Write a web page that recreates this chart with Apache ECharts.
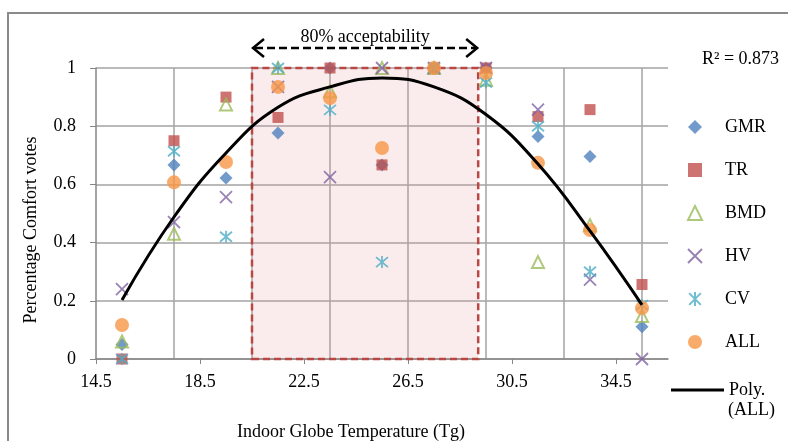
<!DOCTYPE html>
<html lang="en">
<head>
    <meta charset="UTF-8">
    <title>Comfort votes</title>
    <script src="https://cdn.jsdelivr.net/npm/echarts@6/dist/echarts.min.js"></script>
    <style>
        html, body { margin: 0; padding: 0; background: #fff; }
        #main { width: 788px; height: 441px; }
    </style>
</head>
<body>
<div id="main"></div>

<script type="text/javascript">
    // indoor globe temperature bins (Tg)
    var temps = [15.5, 17.5, 19.5, 21.5, 23.5, 25.5, 27.5, 29.5, 31.5, 33.5, 35.5];

    // percentage comfort votes per group
    var gmr = [0.05, 0.667, 0.622, 0.777, 1.0, 0.667, 1.0, 1.0, 0.765, 0.696, 0.111];
    var tr  = [0.0, 0.75, 0.9, 0.83, 1.0, 0.667, 1.0, 1.0, 0.833, 0.857, 0.256];
    var bmd = [0.06, 0.43, 0.875, 1.0, 0.92, 1.0, 1.0, 0.96, 0.333, 0.46, 0.148];
    var hv  = [0.24, 0.47, 0.556, 0.935, 0.625, 1.0, 1.0, 1.0, 0.857, 0.273, 0.0];
    var cv  = [0.0, 0.714, 0.42, 1.0, 0.856, 0.333, 1.0, 0.95, 0.8, 0.3, 0.185];
    var all = [0.117, 0.607, 0.677, 0.935, 0.897, 0.725, 1.0, 0.983, 0.674, 0.443, 0.175];

    // polynomial trend of ALL
    var polyAll = [0.203, 0.488, 0.708, 0.865, 0.935, 0.966, 0.935, 0.84, 0.67, 0.44, 0.186];

    var xTicks = [14.5, 18.5, 22.5, 26.5, 30.5, 34.5];
    var xGrid = [17.5, 20.5, 23.5, 26.5, 29.5, 32.5, 35.5];
    var acceptRange = [20.5, 29.2];

    var font = 'Liberation Serif';
    var gridColor = '#a3a3a3';

    function pts(arr) {
        var out = [];
        for (var i = 0; i < temps.length; i++) {
            out.push([temps[i], arr[i]]);
        }
        return out;
    }

    var myChart = echarts.init(document.getElementById('main'));

    var option = {
        animation: false,
        backgroundColor: '#fff',
        title: {
            text: 'R² = 0.873',
            left: 697,
            top: 45,
            textStyle: {fontFamily: font, fontSize: 18, fontWeight: 'normal', color: '#000'}
        },
        legend: [{
            orient: 'vertical',
            left: 682,
            top: 113,
            itemWidth: 14,
            itemHeight: 14,
            itemGap: 25,
            data: ['GMR', 'TR', 'BMD', 'HV', 'CV', 'ALL'],
            textStyle: {fontFamily: font, fontSize: 18, color: '#000', padding: [0, 0, 0, 18]}
        }, {
            orient: 'vertical',
            left: 666,
            top: 376,
            itemWidth: 53,
            itemHeight: 3,
            data: [{name: 'Poly.', icon: 'rect'}],
            textStyle: {fontFamily: font, fontSize: 18, color: '#000'}
        }],
        grid: {left: 96, right: 120, top: 68, bottom: 82},
        xAxis: [{
            type: 'value',
            min: 14.5,
            max: 36.5,
            axisLine: {show: true, lineStyle: {color: '#868686', width: 1.5}},
            axisTick: {show: true, customValues: xTicks, length: 5, lineStyle: {color: '#868686'}},
            axisLabel: {
                customValues: xTicks,
                formatter: function (v) { return v.toFixed(1); },
                margin: 14,
                fontFamily: font,
                fontSize: 18,
                color: '#000'
            },
            splitLine: {show: false}
        }, {
            type: 'value',
            position: 'top',
            min: 14.5,
            max: 36.5,
            axisLine: {show: false},
            axisTick: {show: false, customValues: xGrid},
            axisLabel: {show: false},
            splitLine: {show: true, lineStyle: {color: gridColor, width: 1.5}}
        }],
        yAxis: {
            type: 'value',
            min: 0,
            max: 1,
            interval: 0.2,
            axisLine: {show: true, lineStyle: {color: '#868686', width: 1.5}},
            axisTick: {show: true, length: 6, lineStyle: {color: '#868686'}},
            axisLabel: {margin: 20, fontFamily: font, fontSize: 18, color: '#000'},
            splitLine: {show: true, lineStyle: {color: gridColor, width: 1.5}}
        },
        series: [{
            // acceptability band
            name: 'band',
            type: 'scatter',
            data: [],
            z: 1,
            markArea: {
                silent: true,
                itemStyle: {
                    color: 'rgba(226,150,150,0.18)',
                    borderColor: '#b94744',
                    borderWidth: 2.5,
                    borderType: [7, 4]
                },
                data: [[{coord: [acceptRange[0], 0]}, {coord: [acceptRange[1], 1]}]]
            }
        }, {
            name: 'GMR',
            type: 'scatter',
            symbol: 'diamond',
            symbolSize: 13,
            itemStyle: {color: '#4f81bd'},
            data: pts(gmr)
        }, {
            name: 'TR',
            type: 'scatter',
            symbol: 'rect',
            symbolSize: 11,
            itemStyle: {color: '#c0504d'},
            data: pts(tr)
        }, {
            name: 'BMD',
            type: 'scatter',
            symbol: 'triangle',
            symbolSize: 12,
            itemStyle: {color: 'rgba(255,255,255,0)', borderColor: '#9bbb59', borderWidth: 2},
            data: pts(bmd)
        }, {
            name: 'HV',
            type: 'scatter',
            symbol: 'path://M0,0L10,10M10,0L0,10',
            symbolSize: 12,
            itemStyle: {color: 'rgba(255,255,255,0)', borderColor: '#8064a2', borderWidth: 1.8},
            data: pts(hv)
        }, {
            name: 'CV',
            type: 'scatter',
            symbol: 'path://M0,0L10,10M10,0L0,10M5,-1L5,11',
            symbolSize: 12,
            itemStyle: {color: 'rgba(255,255,255,0)', borderColor: '#4bacc6', borderWidth: 1.8},
            data: pts(cv)
        }, {
            name: 'ALL',
            type: 'scatter',
            symbol: 'circle',
            symbolSize: 14,
            itemStyle: {color: '#f79646'},
            data: pts(all)
        }, {
            name: 'Poly.',
            type: 'line',
            smooth: 0.45,
            showSymbol: false,
            symbol: 'none',
            z: 10,
            lineStyle: {color: '#000', width: 3},
            itemStyle: {color: '#000'},
            data: pts(polyAll)
        }]
    };

    myChart.setOption(option);

    // annotations placed from the axes
    var pL = myChart.convertToPixel({xAxisIndex: 0, yAxisIndex: 0}, [acceptRange[0], 1]);
    var pR = myChart.convertToPixel({xAxisIndex: 0, yAxisIndex: 0}, [acceptRange[1], 1]);
    var ay = pL[1] - 20;
    var lx = pL[0], rx = pR[0];

    myChart.setOption({
        graphic: [
            // outer frame
            {type: 'polyline', shape: {points: [[8, 441], [8, 13], [788, 13]]},
                style: {stroke: '#8a8a8a', lineWidth: 2, fill: null}},
            // arrow
            {type: 'line', shape: {x1: lx + 3, y1: ay, x2: rx - 3, y2: ay},
                style: {stroke: '#000', lineWidth: 2.5, lineDash: [8, 4]}},
            {type: 'polyline', shape: {points: [[lx + 12, ay - 9], [lx + 1, ay], [lx + 12, ay + 9]]},
                style: {stroke: '#000', lineWidth: 2.5, fill: null}},
            {type: 'polyline', shape: {points: [[rx - 12, ay - 9], [rx - 1, ay], [rx - 12, ay + 9]]},
                style: {stroke: '#000', lineWidth: 2.5, fill: null}},
            {type: 'text', x: (lx + rx) / 2, y: ay - 11,
                style: {text: '80% acceptability', font: '18px "Liberation Serif"', fill: '#000',
                    align: 'center', verticalAlign: 'middle'}},
            // axis titles
            {type: 'text', x: 351, y: 432,
                style: {text: 'Indoor Globe Temperature (Tg)', font: '18px "Liberation Serif"', fill: '#000',
                    align: 'center', verticalAlign: 'middle'}},
            {type: 'text', x: 31, y: 230, rotation: Math.PI / 2,
                style: {text: 'Percentage Comfort votes', font: '18px "Liberation Serif"', fill: '#000',
                    align: 'center', verticalAlign: 'middle'}},
            {type: 'text', x: 728, y: 410,
                style: {text: '(ALL)', font: '18px "Liberation Serif"', fill: '#000',
                    align: 'left', verticalAlign: 'middle'}}
        ]
    });
</script>
</body>
</html>
